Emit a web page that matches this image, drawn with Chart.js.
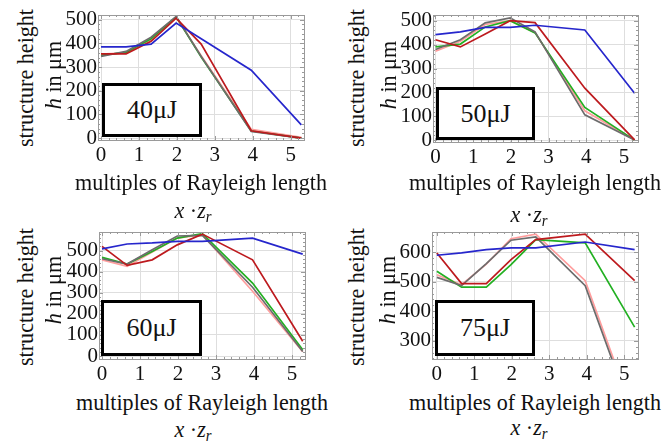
<!DOCTYPE html>
<html>
<head>
<meta charset="utf-8">
<script src="https://cdn.jsdelivr.net/npm/chart.js@4.4.0/dist/chart.umd.min.js"></script>
<style>
  html, body { margin:0; padding:0; background:#fff; }
  body { width:662px; height:441px; position:relative; overflow:hidden; font-family:'Liberation Serif','Times New Roman',serif; color:#111; }
  canvas { position:absolute; }
  .t { position:absolute; font-size:24px; white-space:nowrap; transform:translate(-50%,-50%) scaleX(0.92); line-height:1; }
  .r { transform:translate(-50%,-50%) rotate(-90deg) scaleX(0.92); }
  .box { position:absolute; box-sizing:border-box; border:3px solid #000; background:#fff; display:flex; align-items:center; justify-content:center; font-size:26px; z-index:5; }
  sub { font-size:16px; vertical-align:-4px; }
</style>
</head>
<body>
<canvas id="c1"></canvas><canvas id="c2"></canvas><canvas id="c3"></canvas><canvas id="c4"></canvas>

<div class="t r" style="left:25px;top:78px">structure height</div>
<div class="t r" style="left:53px;top:75px"><i>h</i> in μm</div>
<div class="t" style="left:201px;top:182px">multiples of Rayleigh length</div>
<div class="t" style="left:193px;top:211px"><i>x</i> ·<i>z<sub>r</sub></i></div>

<div class="t r" style="left:356px;top:78px">structure height</div>
<div class="t r" style="left:388px;top:75px"><i>h</i> in μm</div>
<div class="t" style="left:535px;top:182px">multiples of Rayleigh length</div>
<div class="t" style="left:529px;top:215px"><i>x</i> ·<i>z<sub>r</sub></i></div>

<div class="t r" style="left:25px;top:297px">structure height</div>
<div class="t r" style="left:53px;top:290px"><i>h</i> in μm</div>
<div class="t" style="left:202px;top:402px">multiples of Rayleigh length</div>
<div class="t" style="left:193px;top:430px"><i>x</i> ·<i>z<sub>r</sub></i></div>

<div class="t r" style="left:356px;top:297px">structure height</div>
<div class="t r" style="left:387px;top:290px"><i>h</i> in μm</div>
<div class="t" style="left:535px;top:402px">multiples of Rayleigh length</div>
<div class="t" style="left:529px;top:428px"><i>x</i> ·<i>z<sub>r</sub></i></div>

<div class="box" style="left:102px;top:83px;width:100px;height:54px">40μJ</div>
<div class="box" style="left:436px;top:87px;width:99px;height:53px">50μJ</div>
<div class="box" style="left:101px;top:300px;width:101px;height:56px">60μJ</div>
<div class="box" style="left:435px;top:300px;width:100px;height:56px">75μJ</div>

<script>
// ---- data ----
const xPositions = [0, 0.66, 1.32, 1.98, 2.64, 3.96, 5.28];
const xTicks = [0, 1, 2, 3, 4, 5];
const yTicksLow = [0, 100, 200, 300, 400, 500];
const yTicks75 = [300, 400, 500, 600];
const panelLabels = ['40μJ', '50μJ', '60μJ', '75μJ'];

const blue40  = [385, 385, 397, 486, 420, 287, 56];
const red40   = [356, 356, 409, 507, 397, 31, 0];
const gray40  = [345, 366, 426, 514, 345, 28, 0];
const green40 = [350, 362, 420, 512, 342, 30, 0];
const pink40  = [355, 360, 415, 510, 348, 37, 3];

const blue50  = [443, 454, 473, 473, 482, 462, 197];
const red50   = [421, 391, 445, 501, 493, 218, 1];
const gray50  = [380, 421, 492, 513, 454, 106, 0];
const green50 = [391, 403, 475, 501, 450, 137, 0];
const pink50  = [373, 415, 485, 501, 451, 123, 0];

const blue60  = [508, 531, 536, 544, 544, 559, 483];
const red60   = [520, 430, 456, 527, 578, 456, 70];
const gray60  = [461, 436, 504, 569, 572, 326, 22];
const green60 = [468, 436, 496, 559, 580, 346, 30];
const pink60  = [456, 425, 493, 559, 575, 307, 20];

const blue75  = [590, 598, 609, 615, 615, 635, 609];
const red75   = [598, 494, 494, 575, 643, 662, 504];
const gray75  = [515, 487, 562, 641, 652, 487, 25];
const green75 = [536, 482, 482, 558, 643, 632, 346];
const pink75  = [524, 490, 560, 646, 662, 504, 40];

// ---- styling ----
const COLORS = { blue:'#2626cc', red:'#bd1a1e', gray:'#6c6c6c', green:'#22b022', pink:'#ff9d9d' };
const FONT = "'Liberation Serif','Times New Roman',serif";

const framePlugin = {
  id: 'frame',
  afterDatasetsDraw(chart) {
    const {ctx, chartArea: a, scales: {x, y}} = chart;
    ctx.save();
    ctx.strokeStyle = '#9a9a9a';
    ctx.lineWidth = 1;
    ctx.strokeRect(Math.round(a.left)+0.5, Math.round(a.top)+0.5, Math.round(a.right-a.left), Math.round(a.bottom-a.top));
    ctx.beginPath();
    const xStart = Math.ceil(x.min/0.2)*0.2;
    for (let v = xStart; v <= x.max + 1e-9; v += 0.2) {
      const px = Math.round(x.getPixelForValue(v)) + 0.5;
      const major = Math.abs(v - Math.round(v)) < 1e-6;
      const len = major ? 4 : 2;
      ctx.moveTo(px, a.bottom); ctx.lineTo(px, a.bottom - len);
      ctx.moveTo(px, a.top); ctx.lineTo(px, a.top + len);
    }
    const yStart = Math.ceil(y.min/20)*20;
    for (let v = yStart; v <= y.max + 1e-9; v += 20) {
      const py = Math.round(y.getPixelForValue(v)) + 0.5;
      const major = v % 100 === 0;
      const len = major ? 4 : 2;
      ctx.moveTo(a.left, py); ctx.lineTo(a.left + len, py);
      ctx.moveTo(a.right, py); ctx.lineTo(a.right - len, py);
    }
    ctx.stroke();
    ctx.restore();
  }
};

function series(ys) { return ys.map((v, i) => ({x: xPositions[i], y: v})); }

function makeChart(id, rect, xr, yr, yTicks, sets) {
  const W = 60, TOP = 16, RIGHT = 4, XH = 30;
  const cv = document.getElementById(id);
  const w = rect.R - rect.L + W + RIGHT, h = rect.B - rect.T + TOP + XH;
  cv.style.left = (rect.L - W) + 'px';
  cv.style.top = (rect.T - TOP) + 'px';
  cv.width = w; cv.height = h;
  cv.style.width = w + 'px'; cv.style.height = h + 'px';
  const ds = [
    {data: series(sets.blue),  borderColor: COLORS.blue,  order: 0},
    {data: series(sets.red),   borderColor: COLORS.red,   order: 1},
    {data: series(sets.gray),  borderColor: COLORS.gray,  order: 2},
    {data: series(sets.green), borderColor: COLORS.green, order: 3},
    {data: series(sets.pink),  borderColor: COLORS.pink,  order: 4},
  ].map(d => Object.assign(d, {borderWidth: 1.7, pointRadius: 0, tension: 0, fill: false}));
  return new Chart(cv, {
    type: 'line',
    data: { datasets: ds },
    options: {
      responsive: false, animation: false, devicePixelRatio: 1,
      layout: { padding: {top: TOP, right: RIGHT, left: 0, bottom: 0} },
      plugins: { legend: {display: false}, tooltip: {enabled: false} },
      scales: {
        x: {
          type: 'linear', min: xr[0], max: xr[1],
          afterBuildTicks: s => { s.ticks = xTicks.map(v => ({value: v})); },
          afterFit: s => { s.height = XH; },
          grid: { color: '#dedede', drawTicks: false, lineWidth: 1 },
          border: { display: false },
          ticks: { font: {family: FONT, size: 21}, color: '#111', padding: 3, maxRotation: 0, autoSkip: false }
        },
        y: {
          type: 'linear', min: yr[0], max: yr[1],
          afterBuildTicks: s => { s.ticks = yTicks.map(v => ({value: v})); },
          afterFit: s => { s.width = W; },
          grid: { color: '#dedede', drawTicks: false, lineWidth: 1 },
          border: { display: false },
          ticks: { font: {family: FONT, size: 21}, color: '#111', padding: 1, autoSkip: false }
        }
      }
    },
    plugins: [framePlugin]
  });
}

makeChart('c1', {L:98, T:15, R:304, B:140}, [-0.08, 5.35], [-8, 520], yTicksLow,
  {blue: blue40, red: red40, gray: gray40, green: green40, pink: pink40});
makeChart('c2', {L:433, T:15, R:638, B:142}, [-0.066, 5.37], [-8, 525], yTicksLow,
  {blue: blue50, red: red50, gray: gray50, green: green50, pink: pink50});
makeChart('c3', {L:99, T:232, R:305, B:359}, [-0.08, 5.34], [-14, 588], yTicksLow,
  {blue: blue60, red: red60, gray: gray60, green: green60, pink: pink60});
makeChart('c4', {L:432, T:232, R:638, B:359}, [-0.13, 5.37], [238, 669], yTicks75,
  {blue: blue75, red: red75, gray: gray75, green: green75, pink: pink75});
</script>
</body>
</html>
